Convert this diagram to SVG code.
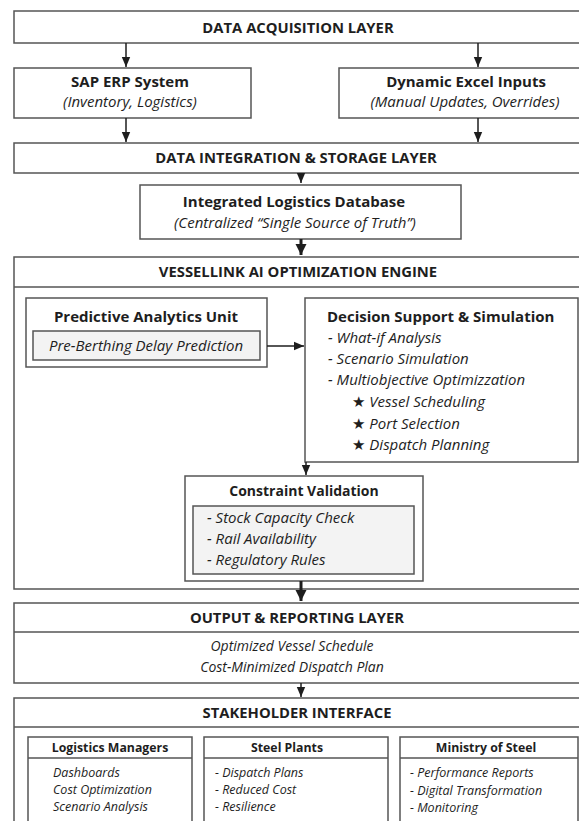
<svg xmlns="http://www.w3.org/2000/svg" width="579" height="821" viewBox="0 0 579 821">
<style>
  text { font-family: "Open Sans", "Noto Sans", "DejaVu Sans", sans-serif; fill: #1e1e1e; }
  .box { fill: #ffffff; stroke: #555555; stroke-width: 1.5; }
  .inner { fill: #f3f3f3; stroke: #555555; stroke-width: 1.5; }
  .div { stroke: #555555; stroke-width: 1.5; fill: none; }
  .layer { font-size: 14.8px; font-weight: bold; text-anchor: middle; }
  .title { font-size: 15px; font-weight: bold; text-anchor: middle; }
  .sub { font-size: 15px; font-style: italic; text-anchor: middle; }
  .out { font-size: 14px; font-style: italic; text-anchor: middle; }
  .item { font-size: 15px; font-style: italic; }
  .shtitle { font-size: 12.3px; font-weight: bold; text-anchor: middle; }
  .shitem { font-size: 12.5px; font-style: italic; }
  .conn { stroke: #1e1e1e; stroke-width: 1.5; fill: none; }
  .thick { stroke: #1e1e1e; stroke-width: 3; fill: none; }
</style>
<defs>
  <marker id="ah" markerUnits="userSpaceOnUse" markerWidth="10" markerHeight="10" refX="10" refY="5" orient="auto">
    <path d="M0,0.8 L10,5 L0,9.2 z" fill="#1e1e1e"/>
  </marker>
  <marker id="ahb" markerUnits="userSpaceOnUse" markerWidth="12" markerHeight="12" refX="11" refY="6" orient="auto">
    <path d="M0,0.5 L11,6 L0,11.5 z" fill="#1e1e1e"/>
  </marker>
</defs>
<rect width="579" height="821" fill="#ffffff"/>

<g id="acquisition">
  <rect class="box" x="14" y="11" width="590" height="32"/>
  <text class="layer" x="298" y="33">DATA ACQUISITION LAYER</text>
</g>

<g id="sap">
  <rect class="box" x="14" y="68" width="237" height="50"/>
  <text class="title" x="130" y="87">SAP ERP System</text>
  <text class="sub" x="130" y="107">(Inventory, Logistics)</text>
</g>

<g id="excel">
  <rect class="box" x="339" y="68" width="260" height="50"/>
  <text class="title" x="466" y="87">Dynamic Excel Inputs</text>
  <text class="sub" x="465" y="107">(Manual Updates, Overrides)</text>
</g>

<g id="integration">
  <rect class="box" x="14" y="143" width="590" height="30"/>
  <text class="layer" x="296" y="163">DATA INTEGRATION &amp; STORAGE LAYER</text>
</g>

<g id="database">
  <rect class="box" x="140" y="185" width="321" height="54"/>
  <text class="title" x="294" y="207">Integrated Logistics Database</text>
  <text class="sub" x="295" y="228">(Centralized “Single Source of Truth”)</text>
</g>

<g id="engine">
  <rect class="box" x="14" y="257" width="590" height="332"/>
  <line class="div" x1="14" y1="287" x2="604" y2="287"/>
  <text class="layer" x="298" y="277">VESSELLINK AI OPTIMIZATION ENGINE</text>
</g>

<g id="predictive">
  <rect class="box" x="26" y="298" width="241" height="69"/>
  <text class="title" x="146" y="322">Predictive Analytics Unit</text>
  <rect class="inner" x="33" y="331" width="227" height="29"/>
  <text class="sub" x="146" y="351">Pre-Berthing Delay Prediction</text>
</g>

<g id="decision">
  <rect class="box" x="305" y="298" width="273" height="164"/>
  <text class="title" x="327" y="322" style="text-anchor:start">Decision Support &amp; Simulation</text>
  <text class="item" x="328" y="343">-  What-if Analysis</text>
  <text class="item" x="328" y="364">-  Scenario Simulation</text>
  <text class="item" x="328" y="385">-  Multiobjective Optimizzation</text>
  <text class="item" x="352" y="407">★ Vessel Scheduling</text>
  <text class="item" x="352" y="429">★ Port Selection</text>
  <text class="item" x="352" y="450">★ Dispatch Planning</text>
</g>

<g id="constraint">
  <rect class="box" x="185" y="476" width="238" height="105"/>
  <text class="title" x="304" y="496" style="font-size:14px">Constraint Validation</text>
  <rect class="inner" x="193" y="506" width="221" height="68"/>
  <text class="item" x="207" y="523">-  Stock Capacity Check</text>
  <text class="item" x="207" y="544">-  Rail Availability</text>
  <text class="item" x="207" y="565">-  Regulatory Rules</text>
</g>

<g id="output">
  <rect class="box" x="14" y="603" width="590" height="80"/>
  <line class="div" x1="14" y1="632" x2="604" y2="632"/>
  <text class="layer" x="297" y="623">OUTPUT &amp; REPORTING LAYER</text>
  <text class="out" x="292" y="651">Optimized Vessel Schedule</text>
  <text class="out" x="292" y="672">Cost-Minimized Dispatch Plan</text>
</g>

<g id="stakeholder">
  <rect class="box" x="14" y="698" width="590" height="140"/>
  <line class="div" x1="14" y1="727" x2="604" y2="727"/>
  <text class="layer" x="297" y="718">STAKEHOLDER INTERFACE</text>
</g>

<g id="logistics-managers">
  <rect class="box" x="28" y="737" width="164" height="100"/>
  <line class="div" x1="28" y1="758" x2="192" y2="758"/>
  <text class="shtitle" x="110" y="752">Logistics Managers</text>
  <text class="shitem" x="53" y="777">Dashboards</text>
  <text class="shitem" x="53" y="794">Cost Optimization</text>
  <text class="shitem" x="53" y="811">Scenario Analysis</text>
</g>

<g id="steel-plants">
  <rect class="box" x="204" y="737" width="184" height="100"/>
  <line class="div" x1="204" y1="758" x2="388" y2="758"/>
  <text class="shtitle" x="287" y="752">Steel Plants</text>
  <text class="shitem" x="215" y="777">-  Dispatch Plans</text>
  <text class="shitem" x="215" y="794">-  Reduced Cost</text>
  <text class="shitem" x="215" y="811">-  Resilience</text>
</g>

<g id="ministry">
  <rect class="box" x="400" y="737" width="178" height="100"/>
  <line class="div" x1="400" y1="758" x2="578" y2="758"/>
  <text class="shtitle" x="486" y="752">Ministry of Steel</text>
  <text class="shitem" x="410" y="777">-  Performance Reports</text>
  <text class="shitem" x="410" y="795">-  Digital Transformation</text>
  <text class="shitem" x="410" y="812">-  Monitoring</text>
</g>

<g id="connectors">
  <line class="conn" x1="126" y1="43" x2="126" y2="67" marker-end="url(#ah)"/>
  <line class="conn" x1="478" y1="43" x2="478" y2="67" marker-end="url(#ah)"/>
  <line class="conn" x1="126" y1="118" x2="126" y2="142" marker-end="url(#ah)"/>
  <line class="conn" x1="478" y1="118" x2="478" y2="142" marker-end="url(#ah)"/>
  <line class="conn" x1="301" y1="173" x2="301" y2="183" marker-end="url(#ah)"/>
  <line class="thick" x1="301" y1="239" x2="301" y2="255" marker-end="url(#ahb)"/>
  <line class="conn" x1="267" y1="346" x2="304" y2="346" marker-end="url(#ah)"/>
  <line class="conn" x1="306" y1="462" x2="306" y2="475" marker-end="url(#ah)"/>
  <line class="thick" x1="301" y1="581" x2="301" y2="601" marker-end="url(#ahb)"/>
  <line class="conn" x1="301" y1="683" x2="301" y2="697" marker-end="url(#ah)"/>
</g>
</svg>
